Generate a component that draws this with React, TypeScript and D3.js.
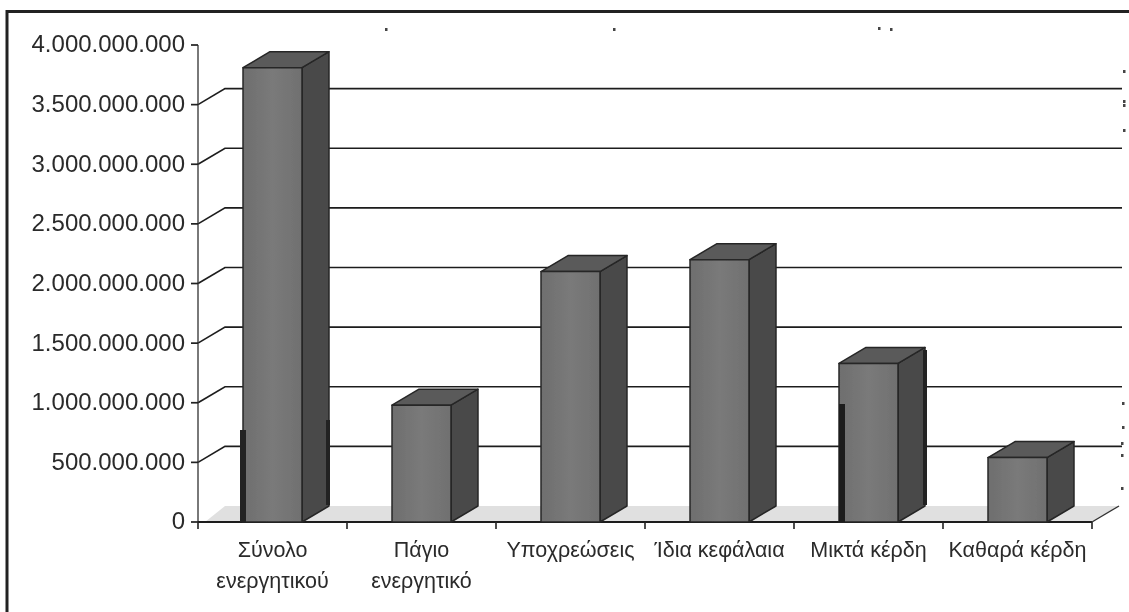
import React from "react";
import * as d3 from "d3";

const categories = ["Σύνολο ενεργητικού", "Πάγιο ενεργητικό", "Υποχρεώσεις", "Ίδια κεφάλαια", "Μικτά κέρδη", "Καθαρά κέρδη"];
const categoryLines = [["Σύνολο", "ενεργητικού"], ["Πάγιο", "ενεργητικό"], ["Υποχρεώσεις"], ["Ίδια κεφάλαια"], ["Μικτά κέρδη"], ["Καθαρά κέρδη"]];
const values = [3810000000, 980000000, 2100000000, 2200000000, 1330000000, 540000000];
const yTicks = [0, 500000000, 1000000000, 1500000000, 2000000000, 2500000000, 3000000000, 3500000000, 4000000000];
const specks = [[385, 28], [613, 28], [878, 27], [890, 28], [1123, 70], [1123, 100], [1123, 104], [1123, 129], [1122, 402], [1122, 426], [1121, 442], [1121, 454], [1121, 487]];

const W = 1129, H = 612;
const DX = 27, DY = -16;
const MAX = 4000000000;
const x = d3.scaleBand<string>().domain(categories).range([198, 1092]);
const y = d3.scaleLinear().domain([0, MAX]).range([522, 45]);
const BAR_W = 59;
const fmt = (v: number) => d3.format(",")(v).replace(/,/g, ".");
const FONT = "'Liberation Sans', Arial, sans-serif";

export default function App() {
  const y0 = y(0);
  return (
    <svg width={W} height={H} style={{ position: "absolute", left: 0, top: 0, background: "#fff" }} fontFamily={FONT}>
      <defs>
        <filter id="soft" x="-5%" y="-5%" width="110%" height="110%">
          <feGaussianBlur stdDeviation="0.6" />
        </filter>
        <linearGradient id="front" x1="0" x2="1" y1="0" y2="0">
          <stop offset="0" stopColor="#6e6e6e" />
          <stop offset="0.5" stopColor="#7a7a7a" />
          <stop offset="1" stopColor="#707070" />
        </linearGradient>
      </defs>
      <g filter="url(#soft)">
        {/* scanned frame: top and left edges only */}
        <path d="M7 612V11.5H1129" fill="none" stroke="#222" strokeWidth={3} />

        {/* floor */}
        <path d={`M205 ${y0}L${198 + DX} ${y0 + DY}H${1092 + DX}L1092 ${y0}Z`} fill="#e0e0e0" />

        {/* grid lines with wall return */}
        {yTicks.slice(1, -1).map((t) => (
          <path
            key={t}
            d={`M198 ${y(t)}L${198 + DX} ${y(t) + DY}H1122`}
            fill="none"
            stroke="#1e1e1e"
            strokeWidth={1.7}
          />
        ))}

        {/* axes */}
        <line x1={198} x2={198} y1={y(MAX)} y2={y0} stroke="#333" strokeWidth={1.3} />
        <line x1={198} x2={1092} y1={y0} y2={y0} stroke="#1e1e1e" strokeWidth={2} />
        <line x1={1092} x2={1092 + DX} y1={y0} y2={y0 + DY} stroke="#333" strokeWidth={1.4} />
        {yTicks.map((t) => (
          <line key={t} x1={191} x2={198} y1={y(t)} y2={y(t)} stroke="#222" strokeWidth={1.7} />
        ))}
        {d3.range(categories.length + 1).map((i) => (
          <line key={i} x1={198 + i * x.bandwidth()} x2={198 + i * x.bandwidth()} y1={y0} y2={y0 + 7} stroke="#222" strokeWidth={1.6} />
        ))}

        {/* bars */}
        {categories.map((c, i) => {
          const left = x(c)! + x.bandwidth() / 2 - BAR_W / 2;
          const right = left + BAR_W;
          const top = y(values[i]);
          return (
            <g key={c} stroke="#262626" strokeWidth={1.5} strokeLinejoin="round">
              <path d={`M${right} ${y0}L${right + DX} ${y0 + DY}V${top + DY}L${right} ${top}Z`} fill="#4a4a4a" />
              <path d={`M${left} ${top}L${left + DX} ${top + DY}H${right + DX}L${right} ${top}Z`} fill="#5a5a5a" />
              <rect x={left} y={top} width={BAR_W} height={y0 - top} fill="url(#front)" />
            </g>
          );
        })}

        {/* scan marks */}
        <rect x={240} y={430} width={6} height={92} fill="#222" />
        <rect x={839} y={404} width={6} height={118} fill="#1c1c1c" />
        <rect x={326} y={420} width={4} height={85} fill="#222" />
        <rect x={923} y={350} width={4} height={155} fill="#222" />
        {specks.map(([sx, sy], i) => (
          <rect key={i} x={sx} y={sy} width={2.5} height={3} fill="#444" />
        ))}

        {/* labels */}
        {yTicks.map((t) => (
          <text key={t} x={185} y={y(t) - 1} dy="0.35em" textAnchor="end" fontSize={24} fill="#2a2a2a">
            {fmt(t)}
          </text>
        ))}
        {categories.map((c, i) => (
          <text key={c} textAnchor="middle" fontSize={21.5} fill="#2a2a2a">
            {categoryLines[i].map((line, j) => (
              <tspan key={j} x={x(c)! + x.bandwidth() / 2} y={557 + j * 31}>
                {line}
              </tspan>
            ))}
          </text>
        ))}
      </g>
    </svg>
  );
}
